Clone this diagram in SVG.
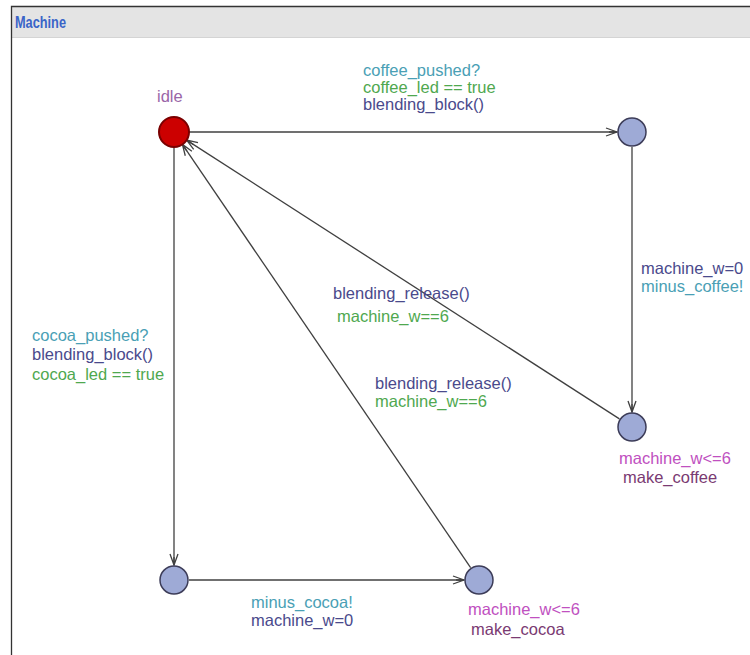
<svg xmlns="http://www.w3.org/2000/svg" width="750" height="655" viewBox="0 0 750 655">
<style>
text{font-family:"Liberation Sans",Arial,sans-serif;font-size:16.5px}
.sync{fill:#4a9fb5}.guard{fill:#4fa84f}.upd{fill:#4a4a8c}.inv{fill:#c050c0}.name{fill:#7a3a72}
.edge{stroke:#404040;stroke-width:1.3;fill:none;marker-end:url(#arr)}
.loc{fill:#9eaad6;stroke:#3c3c58;stroke-width:1.5}
</style>
<defs>
<marker id="arr" markerUnits="userSpaceOnUse" markerWidth="14" markerHeight="12" refX="12" refY="5" orient="auto">
<path d="M1,1 L12,5 L1,9 M4,5 L12,5" stroke="#404040" stroke-width="1.3" fill="none"/>
</marker>
</defs>
<rect x="0" y="0" width="750" height="655" fill="#fff"/>
<rect x="11" y="6" width="739" height="31" fill="#e4e4e4"/>
<line x1="11" y1="37.5" x2="750" y2="37.5" stroke="#d4d4d4" stroke-width="1"/>
<path d="M11.5,655 V6.5 H750" stroke="#333" stroke-width="1.3" fill="none"/>
<text x="15" y="28" textLength="51" lengthAdjust="spacingAndGlyphs" style="font-size:16px;font-weight:bold;fill:#3a64c8">Machine</text>
<g id="edges">
<line class="edge" x1="189" y1="132" x2="617" y2="132"/>
<line class="edge" x1="632" y1="147" x2="632" y2="412"/>
<line class="edge" x1="619.4" y1="418.9" x2="186.6" y2="140.1"/>
<line class="edge" x1="174" y1="147" x2="174" y2="565"/>
<line class="edge" x1="189" y1="580" x2="464" y2="580"/>
<line class="edge" x1="470.6" y1="567.6" x2="182.4" y2="144.4"/>
</g>
<g id="labels">
<text class="sync" x="363" y="76">coffee_pushed?</text>
<text class="guard" x="363" y="93">coffee_led == true</text>
<text class="upd" x="363" y="110">blending_block()</text>
<text class="upd" x="641" y="274">machine_w=0</text>
<text class="sync" x="641" y="292">minus_coffee!</text>
<text class="upd" x="333" y="299">blending_release()</text>
<text class="guard" x="337" y="322">machine_w==6</text>
<text class="upd" x="375" y="389">blending_release()</text>
<text class="guard" x="375" y="407">machine_w==6</text>
<text class="sync" x="32" y="341">cocoa_pushed?</text>
<text class="upd" x="32" y="360">blending_block()</text>
<text class="guard" x="32" y="380">cocoa_led == true</text>
<text class="sync" x="251" y="608">minus_cocoa!</text>
<text class="upd" x="251" y="626">machine_w=0</text>
</g>
<g id="idle">
<circle cx="174" cy="132" r="15" fill="#cc0000" stroke="#7a0000" stroke-width="2"/>
<text x="157" y="102" style="fill:#9a66a8">idle</text>
</g>
<g id="coffee_wait">
<circle class="loc" cx="632" cy="132" r="14"/>
</g>
<g id="make_coffee">
<circle class="loc" cx="632" cy="427" r="14"/>
<text class="inv" x="619" y="464">machine_w&lt;=6</text>
<text class="name" x="623" y="483">make_coffee</text>
</g>
<g id="cocoa_wait">
<circle class="loc" cx="174" cy="580" r="14"/>
</g>
<g id="make_cocoa">
<circle class="loc" cx="479" cy="580" r="14"/>
<text class="inv" x="468" y="615">machine_w&lt;=6</text>
<text class="name" x="471" y="635">make_cocoa</text>
</g>
</svg>
